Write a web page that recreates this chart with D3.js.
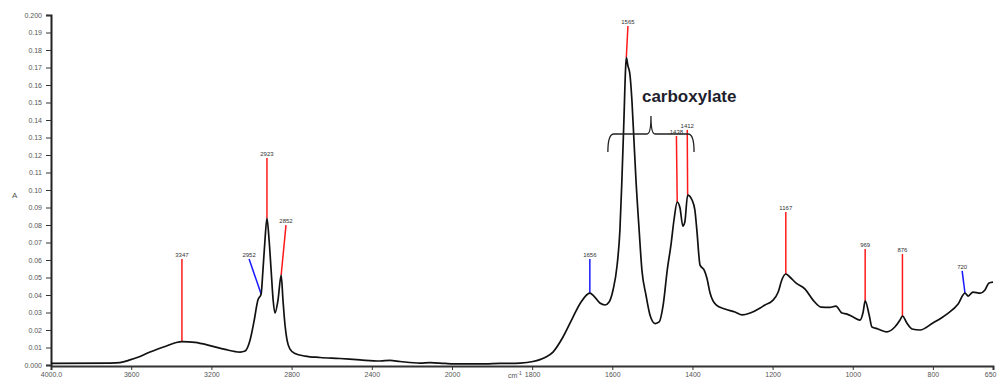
<!DOCTYPE html>
<html>
<head>
<meta charset="utf-8">
<script src="https://cdn.jsdelivr.net/npm/d3@7"></script>
<style>
  html, body { margin: 0; padding: 0; background: #fff; }
  svg { display: block; font-family: "Liberation Sans", Arial, sans-serif; }
</style>
</head>
<body>
<svg id="chart" width="997" height="380"></svg>
<script>
// spectrum (wavenumber cm-1, absorbance)
const wavenumbers = [4000,3706,3656,3606,3556,3506,3431,3380,3347,3282,3207,3132,3057,3032,3007,2988,2968,2952,2943,2933,2923,2912,2902,2892,2883,2868,2852,2843,2833,2823,2808,2783,2733,2658,2559,2459,2359,2309,2259,2160,2110,2035,1980,1930,1880,1830,1798,1768,1748,1723,1698,1678,1656,1646,1631,1618,1608,1598,1588,1581,1576,1571,1567,1565,1561,1556,1551,1546,1541,1533,1526,1516,1506,1493,1483,1473,1463,1453,1446,1438,1431,1424,1419,1412,1401,1394,1389,1381,1371,1364,1356,1341,1319,1294,1276,1256,1231,1219,1201,1186,1177,1167,1157,1142,1119,1099,1079,1057,1042,1027,1014,999,982,974,969,959,952,937,915,895,882,876,865,852,832,800,765,737,720,712,700,682,670,660,650];
const absorbance = [0.0009,0.0011,0.0014,0.0029,0.0049,0.0074,0.0106,0.0127,0.0134,0.0129,0.0111,0.0089,0.0074,0.0080,0.0143,0.0246,0.0371,0.0406,0.054,0.071,0.0838,0.071,0.054,0.037,0.0297,0.037,0.0514,0.037,0.023,0.0143,0.0091,0.0066,0.0051,0.0043,0.0037,0.0029,0.0023,0.0026,0.0020,0.0011,0.0014,0.0009,0.0006,0.0006,0.0009,0.0011,0.0020,0.0043,0.0074,0.0160,0.0274,0.0360,0.0411,0.0394,0.0354,0.0343,0.0360,0.0430,0.0570,0.0770,0.1060,0.1400,0.1686,0.1757,0.1710,0.1660,0.1510,0.1286,0.1060,0.0770,0.0540,0.0400,0.0286,0.0237,0.0246,0.0343,0.0540,0.0697,0.0830,0.0931,0.0897,0.0794,0.0817,0.0971,0.0943,0.0886,0.0771,0.0571,0.0543,0.0497,0.0411,0.0343,0.0320,0.0303,0.0286,0.0297,0.0326,0.0343,0.0366,0.0417,0.0486,0.0520,0.0503,0.0469,0.0434,0.0371,0.0331,0.0329,0.0337,0.0297,0.0291,0.0274,0.0257,0.0303,0.0366,0.0286,0.0217,0.0206,0.0189,0.0217,0.0257,0.0280,0.0240,0.0206,0.0200,0.0240,0.0291,0.0349,0.0411,0.0394,0.0417,0.0411,0.0429,0.0469,0.0474];

const xTicks = [4000,3600,3200,2800,2400,2000,1800,1600,1400,1200,1000,800,650];
const yTicks = d3.range(0, 21).map(i => i / 100);

// peak picks: peak wavenumber, label wavenumber, label absorbance
const peaks = [
  { wn: 3347, labelWn: 3347, labelA: 0.0617 },
  { wn: 2923, labelWn: 2923, labelA: 0.1194 },
  { wn: 2852, labelWn: 2828, labelA: 0.0811 },
  { wn: 1565, labelWn: 1561, labelA: 0.1949 },
  { wn: 1438, labelWn: 1440, labelA: 0.1320 },
  { wn: 1412, labelWn: 1413, labelA: 0.1355 },
  { wn: 1167, labelWn: 1167, labelA: 0.0886 },
  { wn: 969,  labelWn: 969,  labelA: 0.0674 },
  { wn: 876,  labelWn: 876,  labelA: 0.0646 }
];
const shoulders = [
  { wn: 2952, labelWn: 3012, labelA: 0.0617 },
  { wn: 1656, labelWn: 1656, labelA: 0.0617 },
  { wn: 720,  labelWn: 727,  labelA: 0.0549 }
];
const bracketRange = [1611, 1396];
const bracketLevel = 0.132;
const bracketLabel = 'carboxylate';

const svg = d3.select('#chart');

// split axis: 4000-2000 compressed, 2000-650 expanded
const x = d3.scaleLinear().domain([4000, 2000, 650]).range([51, 452, 993]);
const y = d3.scaleLinear().domain([0, 0.2]).range([365, 15]);

const absAt = wn => {
  const i = wavenumbers.indexOf(wn);
  if (i >= 0) return absorbance[i];
  const j = wavenumbers.findIndex(w => w < wn);
  const t = (wavenumbers[j - 1] - wn) / (wavenumbers[j - 1] - wavenumbers[j]);
  return absorbance[j - 1] + t * (absorbance[j] - absorbance[j - 1]);
};

// axes
const xAxis = svg.append('g').attr('transform', 'translate(0,366)')
  .call(d3.axisBottom(x).tickValues(xTicks).tickSizeOuter(0).tickSize(4).tickPadding(2)
    .tickFormat(d => d === 4000 ? '4000.0' : d));
xAxis.select('.domain').attr('stroke', '#333').attr('stroke-width', 2);
xAxis.selectAll('.tick line').attr('stroke', '#333');
xAxis.selectAll('.tick text').attr('font-size', 7).attr('fill', '#555');
xAxis.selectAll('.tick text').filter(d => d === 650).attr('text-anchor', 'end').attr('dx', 3);

const yAxis = svg.append('g').attr('transform', 'translate(51,0)')
  .call(d3.axisLeft(y).tickValues(yTicks).tickSizeOuter(0).tickSize(5).tickPadding(4)
    .tickFormat(d => (d === 0 || d === 0.2) ? d3.format('.3f')(d) : d3.format('.2f')(d)));
yAxis.select('.domain').attr('stroke', '#222').attr('stroke-width', 2);
yAxis.selectAll('.tick line').attr('stroke', '#333');
yAxis.selectAll('.tick text').attr('font-size', 7).attr('fill', '#555');

svg.append('text').attr('x', 12).attr('y', 198).attr('font-size', 8).attr('fill', '#555').text('A');
const xl = svg.append('text').attr('x', 508).attr('y', 378).attr('font-size', 7).attr('fill', '#555').text('cm');
xl.append('tspan').attr('dy', -3).attr('font-size', 5).text('-1');

// peak marker lines (drawn under the spectrum)
const marks = svg.append('g');
const drawMarks = (list, color) => {
  marks.selectAll(null).data(list).enter().append('line')
    .attr('x1', d => x(d.wn)).attr('y1', d => y(absAt(d.wn)))
    .attr('x2', d => x(d.labelWn)).attr('y2', d => y(d.labelA) + 2)
    .attr('stroke', color).attr('stroke-width', 1.5);
  marks.selectAll(null).data(list).enter().append('text')
    .attr('x', d => x(d.labelWn)).attr('y', d => y(d.labelA))
    .attr('text-anchor', 'middle').attr('font-size', 6).attr('fill', '#333')
    .text(d => d.wn);
};
drawMarks(peaks, '#ff1a1a');
drawMarks(shoulders, '#1a1aff');

// spectrum
const line = d3.line()
  .x((d, i) => x(wavenumbers[i]))
  .y(d => y(d))
  .curve(d3.curveMonotoneX);
svg.append('path').datum(absorbance)
  .attr('d', line)
  .attr('fill', 'none').attr('stroke', '#111').attr('stroke-width', 1.7)
  .attr('stroke-linejoin', 'round');

// carboxylate brace
const bx0 = x(bracketRange[0]), bx1 = x(bracketRange[1]);
const bm = (bx0 + bx1) / 2, by = y(bracketLevel);
const brace = d3.path();
brace.moveTo(bx0, by + 18);
brace.quadraticCurveTo(bx0, by, bx0 + 6, by);
brace.lineTo(bm - 4, by);
brace.quadraticCurveTo(bm, by, bm, by - 18);
brace.quadraticCurveTo(bm, by, bm + 4, by);
brace.lineTo(bx1 - 6, by);
brace.quadraticCurveTo(bx1, by, bx1, by + 18);
svg.append('path').attr('d', brace.toString())
  .attr('fill', 'none').attr('stroke', '#222').attr('stroke-width', 1.3);

svg.append('text').attr('x', bm - 9).attr('y', 102)
  .attr('font-size', 17).attr('font-weight', 'bold').attr('fill', '#1e1e2e')
  .text(bracketLabel);
</script>
</body>
</html>
